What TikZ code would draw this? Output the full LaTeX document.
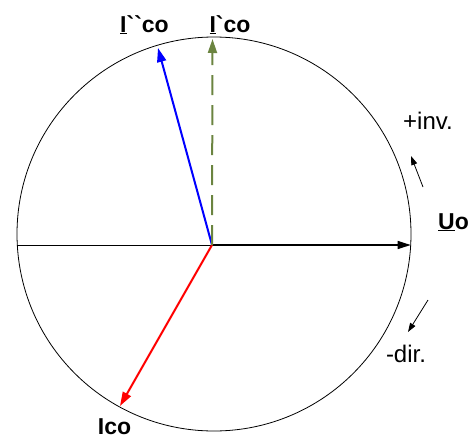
\documentclass[tikz,border=0pt]{standalone}
\usepackage{fontspec}
\setmainfont{Liberation Sans}
\usetikzlibrary{arrows.meta}
\definecolor{vecgreen}{HTML}{6B8440}

\begin{document}
\begin{tikzpicture}[x=1pt,y=-1pt,
  vec/.style={-{Triangle[length=14pt,width=9pt]},line width=2pt},
  hint/.style={-{Triangle[length=9pt,width=6pt]},line width=0.8pt},
  bold/.style={font=\fontsize{23}{27}\selectfont\bfseries,anchor=base,inner sep=0pt},
  plain/.style={font=\fontsize{24}{28}\selectfont,anchor=base,inner sep=0pt}]
\useasboundingbox (0,0) rectangle (476,434);

\coordinate (c) at (214,234);
\coordinate (o) at (212,245);
\coordinate (west) at (17.3,245);
\coordinate (uo) at (410.7,245);
\coordinate (ico) at (120,406);
\coordinate (iss) at (158,48);
\coordinate (is) at (212.5,39);

\draw[line width=0.8pt] (c) circle[radius=197];
\draw[line width=0.8pt] (west) -- (o);

\draw[-{Triangle[length=13pt,width=8pt]},line width=1.4pt] (o) -- (uo);
\draw[vec,blue] (o) -- (iss);
\draw[vec,red] (o) -- (ico);
\draw[vec,vecgreen,dash pattern=on 20pt off 10pt] (o) -- (is);

\node[bold] (issl) at (144.5,32) {\underline{I}\textasciigrave\textasciigrave co};
\node[bold] (isl) at (230,32) {\underline{I}\textasciigrave co};
\node[bold] (uol) at (453.5,229) {\underline{U}o};
\node[bold] (icol) at (114.5,434) {\underline{I}co};
\node[plain] (inv) at (428,129) {+inv.};
\node[plain] (dir) at (406,362) {-dir.};

% sense of rotation
\coordinate (inva) at (423,187);
\coordinate (invb) at (411,156);
\coordinate (dira) at (428,300);
\coordinate (dirb) at (408,332);
\draw[hint] (inva) -- (invb);
\draw[hint] (dira) -- (dirb);
\end{tikzpicture}
\end{document}
